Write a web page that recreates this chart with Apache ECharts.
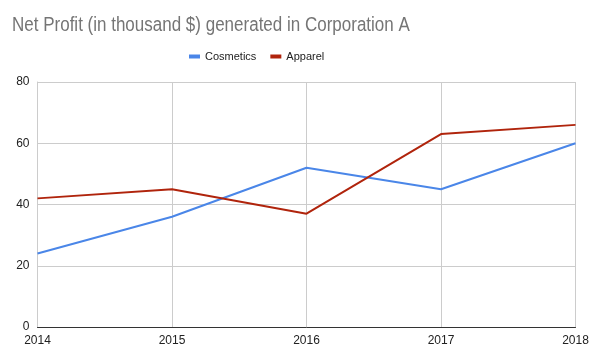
<!DOCTYPE html>
<html>
<head>
<meta charset="utf-8">
<script src="https://cdn.jsdelivr.net/npm/echarts@6/dist/echarts.min.js"></script>
<style>html,body{margin:0;padding:0;background:#fff}#c{width:600px;height:360px}</style>
</head>
<body>
<div id="c"></div>
<script>
var titleText = 'Net Profit (in thousand $) generated in Corporation A';
var categories = ['2014', '2015', '2016', '2017', '2018'];
var cosmetics = [24, 36, 52, 45, 60];
var apparel = [42, 45, 37, 63, 66];
var seriesNames = ['Cosmetics', 'Apparel'];

var chart = echarts.init(document.getElementById('c'), null, {renderer: 'canvas'});
chart.setOption({
  animation: false,
  backgroundColor: '#ffffff',
  graphic: [{
    type: 'text', x: 12, y: 15, scaleX: 0.85,
    style: {
      text: titleText,
      font: 'normal 20px "Liberation Sans", Arial, sans-serif',
      fill: '#757575',
      textVerticalAlign: 'top', verticalAlign: 'top'
    }
  }],
  legend: {
    data: seriesNames,
    top: 46, left: 184,
    itemWidth: 11, itemHeight: 4, itemGap: 14,
    icon: 'rect',
    textStyle: {fontFamily: 'Liberation Sans, Arial, sans-serif', fontSize: 11, color: '#222'}
  },
  grid: {left: 37.5, right: 24.5, top: 82, bottom: 33, containLabel: false},
  xAxis: {
    type: 'category', data: categories, boundaryGap: false,
    axisLine: {show: true, lineStyle: {color: '#333', width: 1}},
    axisTick: {show: false},
    axisLabel: {fontFamily: 'Liberation Sans, Arial, sans-serif', fontSize: 12, color: '#222', margin: 8},
    splitLine: {show: true, lineStyle: {color: '#cccccc', width: 1}}
  },
  yAxis: {
    type: 'value', min: 0, max: 80, interval: 20,
    axisLine: {show: true, lineStyle: {color: '#cccccc'}},
    axisTick: {show: false},
    axisLabel: {fontFamily: 'Liberation Sans, Arial, sans-serif', fontSize: 12, color: '#222', margin: 8},
    splitLine: {show: true, lineStyle: {color: '#cccccc', width: 1}}
  },
  series: [
    {name: seriesNames[0], type: 'line', data: cosmetics, showSymbol: false, symbol: 'none',
     lineStyle: {width: 2, color: '#4a86e8'}, itemStyle: {color: '#4a86e8'}},
    {name: seriesNames[1], type: 'line', data: apparel, showSymbol: false, symbol: 'none',
     lineStyle: {width: 2, color: '#b0240c'}, itemStyle: {color: '#b0240c'}}
  ]
});
</script>
</body>
</html>
